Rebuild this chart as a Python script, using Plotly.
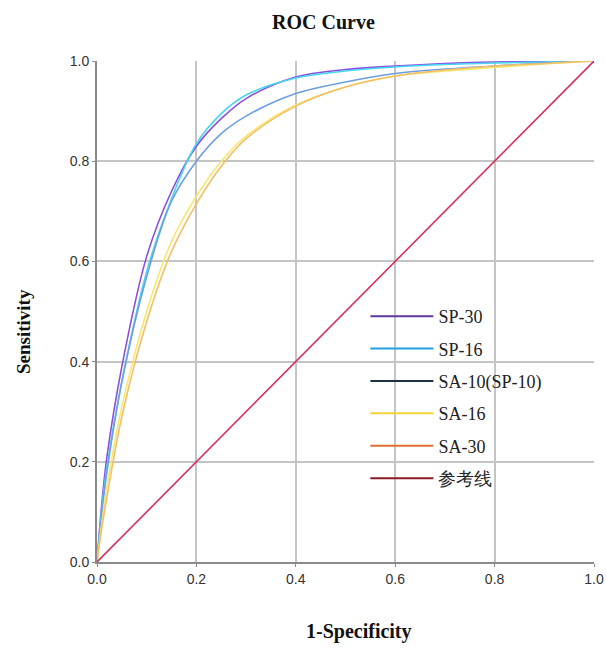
import plotly.graph_objects as go

fpr = [0.0, 0.01, 0.02, 0.05, 0.1, 0.15, 0.2, 0.25, 0.3, 0.4, 0.5, 0.6, 0.7, 0.8, 0.9, 1.0]

sp30 = [0.0, 0.12, 0.21, 0.39, 0.61, 0.74, 0.83, 0.885, 0.925, 0.968, 0.983, 0.99, 0.995, 0.998, 0.999, 1.0]
sp16 = [0.0, 0.11, 0.19, 0.36, 0.58, 0.725, 0.835, 0.895, 0.932, 0.966, 0.98, 0.988, 0.993, 0.996, 0.998, 1.0]
sa10 = [0.0, 0.10, 0.18, 0.36, 0.57, 0.72, 0.80, 0.855, 0.89, 0.935, 0.958, 0.975, 0.984, 0.99, 0.996, 1.0]
sa16 = [0.0, 0.08, 0.15, 0.31, 0.50, 0.64, 0.73, 0.80, 0.85, 0.912, 0.948, 0.97, 0.98, 0.987, 0.994, 1.0]
sa30 = [0.0, 0.07, 0.13, 0.29, 0.48, 0.62, 0.715, 0.79, 0.845, 0.91, 0.948, 0.97, 0.982, 0.99, 0.995, 1.0]
ref_x = [0.0, 1.0]
ref_y = [0.0, 1.0]

names = ["SP-30", "SP-16", "SA-10(SP-10)", "SA-16", "SA-30", "参考线"]
curve_colors = ["#8a4fe0", "#45d8f0", "#6d9fe0", "#f5e870", "#f2bf6a", "#d8305c"]
legend_colors = ["#5b3a9a", "#1f9fe0", "#1f3040", "#f2d43a", "#e0702e", "#8b1a22"]
ticks = [0.0, 0.2, 0.4, 0.6, 0.8, 1.0]
tick_text = ["0.0", "0.2", "0.4", "0.6", "0.8", "1.0"]

series = [sp30, sp16, sa10, sa16, sa30]
serif = "Liberation Serif, Times New Roman, serif"

fig = go.Figure()
for s, c in zip(series, curve_colors[:5]):
    fig.add_trace(go.Scatter(x=fpr, y=s, mode="lines", line=dict(color=c, width=1.6, shape="spline"),
                             showlegend=False, hoverinfo="skip"))
fig.add_trace(go.Scatter(x=ref_x, y=ref_y, mode="lines", line=dict(color=curve_colors[5], width=1.6),
                         showlegend=False, hoverinfo="skip"))
for i, (n, c) in enumerate(zip(names, legend_colors)):
    fig.add_trace(go.Scatter(x=[None], y=[None], mode="lines", name=n, legendgroup=str(i),
                             line=dict(color=c, width=2)))

fig.update_layout(
    width=606, height=648,
    margin=dict(l=97, r=12, t=61, b=86),
    paper_bgcolor="white", plot_bgcolor="white",
    showlegend=True,
    legend=dict(x=0.54, y=0.527, xanchor="left", yanchor="top", bgcolor="rgba(0,0,0,0)",
                font=dict(family=serif, size=18, color="#222"),
                tracegroupgap=6, itemwidth=63),
    annotations=[
        dict(text="<b>ROC Curve</b>", x=0.455, y=1.0, xref="paper", yref="paper", yshift=52,
             showarrow=False, font=dict(family=serif, size=20, color="#111")),
        dict(text="<b>1-Specificity</b>", x=0.527, y=0, xref="paper", yref="paper", yshift=-83,
             showarrow=False, font=dict(family=serif, size=20, color="#111")),
        dict(text="<b>Sensitivity</b>", x=0, y=0.46, xref="paper", yref="paper", xshift=-86,
             textangle=-90, showarrow=False,
             font=dict(family=serif, size=19, color="#111")),
    ],
)
axis_common = dict(range=[0, 1], tickvals=ticks, ticktext=tick_text, showgrid=True, gridcolor="#c4c4c4",
                   gridwidth=1.5, zeroline=False, showline=True, linecolor="#8a8a8a", linewidth=2,
                   ticks="outside", ticklen=3, tickcolor="#8a8a8a", automargin=False,
                   tickfont=dict(family="Liberation Sans, Arial, sans-serif", size=14, color="#333"),
                   fixedrange=True)
fig.update_xaxes(**axis_common)
fig.update_yaxes(**axis_common)

fig.write_html("out.html")
